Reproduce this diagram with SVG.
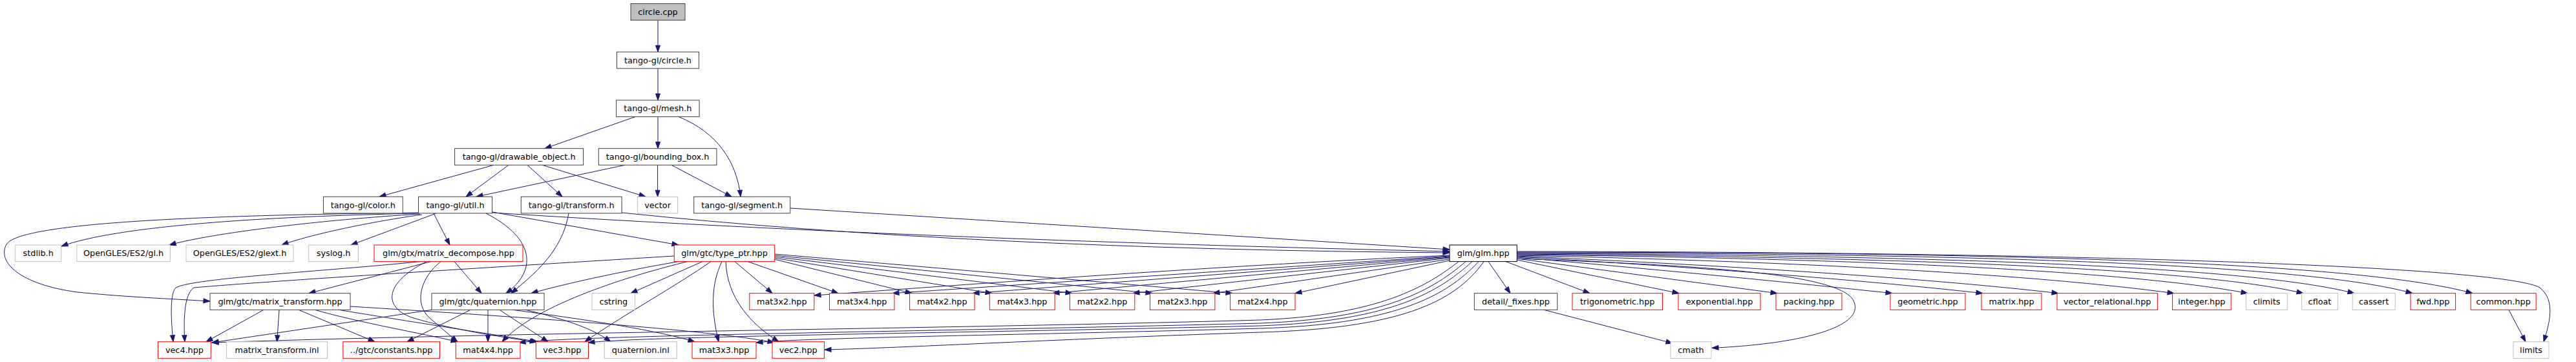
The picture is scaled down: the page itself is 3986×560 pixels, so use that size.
<svg xmlns="http://www.w3.org/2000/svg" width="3986" height="560" viewBox="0 0 3986 560">
<defs>
<marker id="ah" markerUnits="userSpaceOnUse" markerWidth="11" markerHeight="8" refX="10" refY="3.5" orient="auto" overflow="visible">
<path d="M0,0 L10,3.5 L0,7 z" fill="#191970" stroke="#191970" stroke-width="1"/>
</marker>
<style>
.n rect{fill:#ffffff;stroke:#404040;stroke-width:1}
.root rect{fill:#bfbfbf;stroke:#404040}
.blk rect{stroke:#000000}
.r rect{stroke:#ff0000}
.x rect{stroke:#bfbfbf}
.n text{font-family:"DejaVu Sans","Liberation Sans",sans-serif;font-size:12.8px;text-anchor:middle;fill:#000000}
#edges path{fill:none;stroke:#191970;stroke-width:1;marker-end:url(#ah)}
</style>
</defs>
<rect width="3986" height="560" fill="#ffffff"/>
<g id="edges">
<path d="M1018,31.2 L1018,80.3"/>
<path d="M1018,105.9 L1018,155"/>
<path d="M983,180.6 L843,229.7"/>
<path d="M1018,180.6 L1018,229.7"/>
<path d="M1050,180.6 C1110,205 1140,250 1146,304.3"/>
<path d="M764,255.3 L587,304.3"/>
<path d="M787,255.3 L721,304.3"/>
<path d="M816,255.3 L870,304.3"/>
<path d="M839,255.3 L999,304.3"/>
<path d="M967,255.3 L737,304.3"/>
<path d="M1017.6,255.3 L1017.6,304.3"/>
<path d="M1039,255.3 L1132,304.3"/>
<path d="M648,330 C400,335 180,350 95,381"/>
<path d="M650,331 C500,340 330,360 262,379"/>
<path d="M653,332 C560,345 470,366 436,379"/>
<path d="M675,330 L543,379"/>
<path d="M671,330 L696,379"/>
<path d="M648,329 C300,333 30,345 10,378 C-5,405 30,440 120,452 C200,460 280,463 325,466"/>
<path d="M752,330 C830,370 830,420 783,453.7"/>
<path d="M880,330 C870,390 825,425 791,453.7"/>
<path d="M762,328 L1050,379"/>
<path d="M762,329 Q1400,370 2243,389"/>
<path d="M962,329 Q1500,385 2243,391"/>
<path d="M1223,322 L2243,386"/>
<path d="M650,404.6 C500,420 300,430 272,445 C262,455 265,500 268,528.7"/>
<path d="M667,404.6 L478,453.7"/>
<path d="M703,404.6 L745,453.7"/>
<path d="M660,404.6 C590,440 595,478 640,492 C700,510 780,522 830,529"/>
<path d="M682,404.6 C650,430 640,470 665,492 C680,505 695,518 708,528.7"/>
<path d="M1043,396 C900,405 450,432 300,445 C284,455 284,500 286,528.7"/>
<path d="M1050,404.6 C960,420 870,440 822,453.7"/>
<path d="M1064,404.6 C980,425 830,470 777,528.7"/>
<path d="M1087,404.6 L976,453.7"/>
<path d="M1100,404.6 C1050,440 960,490 905,528.7"/>
<path d="M1117,404.6 C1100,440 1100,480 1112,528.7"/>
<path d="M1123,404.6 C1125,460 1160,500 1205,528.7"/>
<path d="M1137,404.6 L1195,453.7"/>
<path d="M1157,404.6 L1297,453.7"/>
<path d="M1198,401 L1411,453.7"/>
<path d="M1198,399 L1535,453.7"/>
<path d="M1198,397 L1659,453.7"/>
<path d="M1198,395 L1783,453.7"/>
<path d="M1198,393 L1907,453.7"/>
<path d="M2243,395 C1900,410 1500,440 1260,457"/>
<path d="M2243,396 L1381,453.7"/>
<path d="M2243,397 L1505,453.7"/>
<path d="M2243,398 L1629,453.7"/>
<path d="M2243,399 L1753,453.7"/>
<path d="M2243,401 L1877,453.7"/>
<path d="M2243,403 L2004,453.7"/>
<path d="M408,479.3 L319,528.7"/>
<path d="M432,479.3 L428.6,528.7"/>
<path d="M462,479.3 L580,528.7"/>
<path d="M487,479.3 C560,500 650,515 708,528.7"/>
<path d="M524,479.3 C650,500 780,520 832,528.7"/>
<path d="M542,474 C800,490 1100,510 1198,530"/>
<path d="M668,479.3 L328,530"/>
<path d="M728,479.3 L630,528.7"/>
<path d="M755,479.3 L755,528.7"/>
<path d="M773,479.3 L848,528.7"/>
<path d="M793,479.3 C950,500 1030,515 1075,528.7"/>
<path d="M813,479.3 C880,495 920,510 945,528.7"/>
<path d="M2257,404.6 C2200,450 2120,488 1950,495 C1500,508 800,514 328,530"/>
<path d="M2268,404.6 C2210,455 2130,493 1950,500 C1500,512 900,518 803,530"/>
<path d="M2278,404.6 C2220,458 2140,497 1950,504 C1500,515 1000,520 910,530"/>
<path d="M2288,404.6 C2235,462 2150,502 1950,508 C1600,518 1250,522 1170,530"/>
<path d="M2296,404.6 C2250,470 2160,508 1950,514 C1650,524 1400,538 1276,541"/>
<path d="M2389,479.3 L2588,531"/>
<path d="M2347,400 C2600,410 2845,420 2868,465 C2888,505 2790,532 2649,538.3"/>
<path d="M2303,404.6 L2337,453.7"/>
<path d="M2330,404.6 L2460,453.7"/>
<path d="M2347,402 L2598,453.7"/>
<path d="M2347,400 L2750,453.7"/>
<path d="M2347,398 C2600,420 2800,440 2928,453.7"/>
<path d="M2347,397 C2650,415 2900,435 3068,453.7"/>
<path d="M2347,396 C2700,412 3000,432 3185,453.7"/>
<path d="M2347,395 C2800,405 3150,425 3364,453.7"/>
<path d="M2347,394 C2900,400 3300,420 3478,453.7"/>
<path d="M2347,393 C2950,398 3400,415 3564,453.7"/>
<path d="M2347,392 C3000,395 3480,412 3643,453.7"/>
<path d="M2347,391 C3050,392 3570,408 3733,453.7"/>
<path d="M2347,390 C3100,390 3650,405 3826,453.7"/>
<path d="M2347,389 C3300,390 3880,415 3930,445 C3955,465 3945,500 3936,528.7"/>
<path d="M3882,479.3 L3908,528.7"/>
</g>
<g id="n_circle_cpp" class="n root"><rect x="976" y="5.6" width="84" height="25.6"/><text x="1018" y="22.9">circle.cpp</text></g>
<g id="n_circle_h" class="n"><rect x="954.5" y="80.3" width="127" height="25.6"/><text x="1018" y="97.6">tango-gl/circle.h</text></g>
<g id="n_mesh_h" class="n"><rect x="953.6" y="155" width="128.5" height="25.6"/><text x="1017.85" y="172.3">tango-gl/mesh.h</text></g>
<g id="n_drawable_object_h" class="n"><rect x="703.6" y="229.7" width="199" height="25.6"/><text x="803.1" y="247">tango-gl/drawable_object.h</text></g>
<g id="n_bounding_box_h" class="n"><rect x="926.3" y="229.7" width="182.6" height="25.6"/><text x="1017.6" y="247">tango-gl/bounding_box.h</text></g>
<g id="n_color_h" class="n"><rect x="500.4" y="304.3" width="122.8" height="25.6"/><text x="561.8" y="321.6">tango-gl/color.h</text></g>
<g id="n_util_h" class="n"><rect x="647.5" y="304.3" width="114" height="25.6"/><text x="704.5" y="321.6">tango-gl/util.h</text></g>
<g id="n_transform_h" class="n"><rect x="806.3" y="304.3" width="155.8" height="25.6"/><text x="884.2" y="321.6">tango-gl/transform.h</text></g>
<g id="n_vector" class="n x"><rect x="986.6" y="304.3" width="62" height="25.6"/><text x="1017.6" y="321.6">vector</text></g>
<g id="n_segment_h" class="n"><rect x="1073.7" y="304.3" width="149" height="25.6"/><text x="1148.2" y="321.6">tango-gl/segment.h</text></g>
<g id="n_stdlib_h" class="n x"><rect x="23.7" y="379" width="71" height="25.6"/><text x="59.2" y="396.3">stdlib.h</text></g>
<g id="n_gl_h" class="n x"><rect x="118.8" y="379" width="144.6" height="25.6"/><text x="191.1" y="396.3">OpenGLES/ES2/gl.h</text></g>
<g id="n_glext_h" class="n x"><rect x="288" y="379" width="166" height="25.6"/><text x="371" y="396.3">OpenGLES/ES2/glext.h</text></g>
<g id="n_syslog_h" class="n x"><rect x="477.7" y="379" width="76.8" height="25.6"/><text x="516.1" y="396.3">syslog.h</text></g>
<g id="n_matrix_decompose" class="n r"><rect x="579" y="379" width="230" height="25.6"/><text x="694" y="396.3">glm/gtx/matrix_decompose.hpp</text></g>
<g id="n_type_ptr" class="n r"><rect x="1043.3" y="379" width="155.4" height="25.6"/><text x="1121" y="396.3">glm/gtc/type_ptr.hpp</text></g>
<g id="n_glm_hpp" class="n blk"><rect x="2243" y="379" width="104.3" height="25.6"/><text x="2295.15" y="396.3">glm/glm.hpp</text></g>
<g id="n_matrix_transform_hpp" class="n"><rect x="325" y="453.7" width="217" height="25.6"/><text x="433.5" y="471">glm/gtc/matrix_transform.hpp</text></g>
<g id="n_quaternion_hpp" class="n"><rect x="668" y="453.7" width="174" height="25.6"/><text x="755" y="471">glm/gtc/quaternion.hpp</text></g>
<g id="n_cstring" class="n x"><rect x="916" y="453.7" width="66.6" height="25.6"/><text x="949.3" y="471">cstring</text></g>
<g id="n_mat3x2" class="n r"><rect x="1159.8" y="453.7" width="100" height="25.6"/><text x="1209.8" y="471">mat3x2.hpp</text></g>
<g id="n_mat3x4" class="n r"><rect x="1283.5" y="453.7" width="100.4" height="25.6"/><text x="1333.7" y="471">mat3x4.hpp</text></g>
<g id="n_mat4x2" class="n r"><rect x="1407.6" y="453.7" width="100.4" height="25.6"/><text x="1457.8" y="471">mat4x2.hpp</text></g>
<g id="n_mat4x3" class="n r"><rect x="1531.3" y="453.7" width="100.8" height="25.6"/><text x="1581.7" y="471">mat4x3.hpp</text></g>
<g id="n_mat2x2" class="n r"><rect x="1655.4" y="453.7" width="100.4" height="25.6"/><text x="1705.6" y="471">mat2x2.hpp</text></g>
<g id="n_mat2x3" class="n r"><rect x="1779.5" y="453.7" width="100.4" height="25.6"/><text x="1829.7" y="471">mat2x3.hpp</text></g>
<g id="n_mat2x4" class="n r"><rect x="1903.6" y="453.7" width="100.4" height="25.6"/><text x="1953.8" y="471">mat2x4.hpp</text></g>
<g id="n_fixes" class="n"><rect x="2281.3" y="453.7" width="128.5" height="25.6"/><text x="2345.55" y="471">detail/_fixes.hpp</text></g>
<g id="n_trigonometric" class="n r"><rect x="2433" y="453.7" width="139.5" height="25.6"/><text x="2502.75" y="471">trigonometric.hpp</text></g>
<g id="n_exponential" class="n r"><rect x="2597" y="453.7" width="127" height="25.6"/><text x="2660.5" y="471">exponential.hpp</text></g>
<g id="n_packing" class="n r"><rect x="2748" y="453.7" width="102" height="25.6"/><text x="2799" y="471">packing.hpp</text></g>
<g id="n_geometric" class="n r"><rect x="2925" y="453.7" width="116" height="25.6"/><text x="2983" y="471">geometric.hpp</text></g>
<g id="n_matrix" class="n r"><rect x="3066" y="453.7" width="93" height="25.6"/><text x="3112.5" y="471">matrix.hpp</text></g>
<g id="n_vector_relational" class="n r"><rect x="3183" y="453.7" width="155.4" height="25.6"/><text x="3260.7" y="471">vector_relational.hpp</text></g>
<g id="n_integer" class="n r"><rect x="3361.6" y="453.7" width="90.6" height="25.6"/><text x="3406.9" y="471">integer.hpp</text></g>
<g id="n_climits" class="n x"><rect x="3475.4" y="453.7" width="64" height="25.6"/><text x="3507.4" y="471">climits</text></g>
<g id="n_cfloat" class="n x"><rect x="3561.6" y="453.7" width="55.8" height="25.6"/><text x="3589.5" y="471">cfloat</text></g>
<g id="n_cassert" class="n x"><rect x="3640.2" y="453.7" width="66" height="25.6"/><text x="3673.2" y="471">cassert</text></g>
<g id="n_fwd" class="n r"><rect x="3730" y="453.7" width="69.6" height="25.6"/><text x="3764.8" y="471">fwd.hpp</text></g>
<g id="n_common" class="n r"><rect x="3823.2" y="453.7" width="101" height="25.6"/><text x="3873.7" y="471">common.hpp</text></g>
<g id="n_vec4" class="n r"><rect x="244.6" y="528.7" width="81.7" height="25.6"/><text x="285.45" y="546">vec4.hpp</text></g>
<g id="n_matrix_transform_inl" class="n x"><rect x="350.4" y="528.7" width="156.3" height="25.6"/><text x="428.55" y="546">matrix_transform.inl</text></g>
<g id="n_constants" class="n r"><rect x="530.8" y="528.7" width="149.7" height="25.6"/><text x="605.65" y="546">../gtc/constants.hpp</text></g>
<g id="n_mat4x4" class="n r"><rect x="705.3" y="528.7" width="99.7" height="25.6"/><text x="755.15" y="546">mat4x4.hpp</text></g>
<g id="n_vec3" class="n r"><rect x="829.3" y="528.7" width="81.2" height="25.6"/><text x="869.9" y="546">vec3.hpp</text></g>
<g id="n_quaternion_inl" class="n x"><rect x="935.3" y="528.7" width="112" height="25.6"/><text x="991.3" y="546">quaternion.inl</text></g>
<g id="n_mat3x3" class="n r"><rect x="1071" y="528.7" width="99" height="25.6"/><text x="1120.5" y="546">mat3x3.hpp</text></g>
<g id="n_vec2" class="n r"><rect x="1195" y="528.7" width="80.4" height="25.6"/><text x="1235.2" y="546">vec2.hpp</text></g>
<g id="n_cmath" class="n x"><rect x="2585" y="528.7" width="63" height="25.6"/><text x="2616.5" y="546">cmath</text></g>
<g id="n_limits" class="n x"><rect x="3889" y="528.7" width="55" height="25.6"/><text x="3916.5" y="546">limits</text></g>
</svg>
